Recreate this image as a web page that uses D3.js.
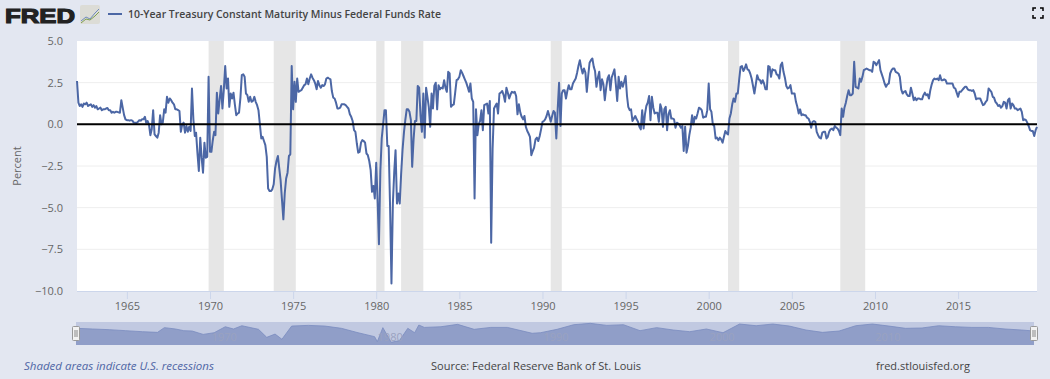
<!DOCTYPE html>
<html>
<head>
<meta charset="utf-8">
<title>10-Year Treasury Constant Maturity Minus Federal Funds Rate</title>
<script src="https://cdn.jsdelivr.net/npm/d3@7"></script>
<style>
  html, body { margin:0; padding:0; background:#e3e7f1; overflow:hidden; }
  svg { display:block; }
  text { font-family:"Open Sans", sans-serif; }
  .axis path { display:none; }
</style>
</head>
<body>
<svg></svg>
<script>

//monthly values, one row per year
var values = [
  2.6,1.3,1.1,1.2,1.05,1.25,1.2,1.3,1.1,1.15,1.2,1.05,
  1.15,1.0,1.1,0.9,0.95,1.0,0.85,0.9,0.9,0.95,0.98,0.85,
  0.85,0.7,0.75,0.7,0.75,0.75,0.72,0.7,1.45,1.0,0.55,0.3,
  0.25,0.25,0.22,0.25,0.22,0.1,0.1,0.08,0.15,0.25,0.22,0.3,
  0.3,0.45,0.1,0.2,0.0,-0.65,-0.3,0.85,-0.6,-0.7,-0.8,-0.5,
  0.55,0.0,0.1,0.9,0.7,1.65,1.3,1.55,1.45,1.3,1.2,0.9,
  0.9,0.85,0.8,-0.45,0.0,0.1,-0.5,-0.1,-0.45,-0.15,-0.4,2.15,
  0.3,-0.7,-0.5,-1.75,-2.8,-0.8,-2.0,-2.9,-1.1,-2.0,-1.95,2.85,
  -1.65,-1.65,-1.0,-0.45,-0.65,1.9,0.65,1.5,2.3,0.95,2.1,3.5,
  2.15,2.75,1.05,1.85,1.55,1.9,1.2,0.55,0.65,0.7,1.6,2.95,
  3.0,2.85,1.85,1.75,1.35,1.65,1.35,1.4,1.65,1.35,1.15,0.85,
  0.0,-0.85,-0.75,-1.0,-1.25,-1.95,-3.85,-4.0,-4.0,-3.9,-3.6,-2.65,
  -2.2,-1.9,-2.6,-3.35,-4.5,-5.7,-4.15,-3.25,-2.9,-1.9,-1.8,3.5,
  0.9,2.55,1.35,2.75,1.95,2.0,2.05,2.2,2.35,2.4,2.75,2.4,
  2.75,3.0,2.8,2.65,2.45,2.1,2.6,2.35,2.2,2.35,2.3,2.4,
  2.75,2.8,2.75,2.7,2.0,1.6,1.55,1.3,0.95,0.95,1.0,1.2,
  1.2,1.2,1.15,1.05,0.95,0.6,0.45,0.2,-0.35,-0.45,-1.15,-1.7,
  -1.65,-1.1,-0.95,-1.0,-1.1,-1.75,-1.85,-2.2,-2.75,-4.05,-3.7,-4.45,
  -2.3,-4.6,-7.2,-2.8,-0.85,0.0,0.85,0.85,-1.3,-1.3,-5.0,-9.55,
  -4.75,-2.8,-1.55,-4.75,-4.15,-4.75,-3.0,-1.55,-0.5,0.25,0.9,0.9,
  0.75,0.25,-2.55,-0.9,0.2,0.2,2.3,2.2,0.5,-0.45,1.85,-0.8,
  2.2,1.6,1.05,-0.15,1.85,0.95,2.3,2.5,0.9,2.35,2.1,2.2,
  2.15,2.65,2.2,1.95,3.15,3.05,1.05,1.15,1.2,1.9,2.65,2.7,
  2.85,3.25,3.1,2.9,2.7,2.5,2.25,1.95,2.45,1.55,1.35,-4.45,
  0.9,-0.65,0.0,0.2,0.85,-0.35,1.15,1.2,1.25,0.65,1.4,-7.1,
  -1.5,0.95,1.1,1.25,0.65,1.85,1.9,2.0,1.75,1.35,2.2,1.9,
  1.55,1.8,1.95,1.9,1.95,1.7,0.6,1.2,0.7,0.45,0.3,0.5,
  -0.15,-0.4,-0.55,-0.75,-1.85,-1.6,-1.4,-0.9,-0.8,-1.0,-0.7,-0.3,
  0.15,0.2,0.3,0.5,0.8,0.5,0.15,0.5,0.8,0.7,-0.85,0.9,
  2.5,-0.1,1.85,2.05,2.05,1.55,2.0,2.35,2.1,2.1,2.45,2.6,
  2.75,3.1,3.5,3.85,3.4,3.05,3.35,3.1,1.95,2.9,3.7,3.85,
  3.95,3.45,3.2,2.25,2.8,3.15,2.05,2.7,2.4,1.45,2.2,2.75,
  2.95,2.05,2.8,3.05,3.3,2.4,1.4,2.85,2.15,2.55,2.25,2.55,
  2.9,1.7,1.05,0.85,0.9,0.2,0.35,0.5,0.3,0.15,-0.15,-0.3,
  0.85,-0.25,0.6,1.1,1.3,1.7,0.25,1.65,1.0,0.65,0.7,0.7,
  0.15,1.2,0.95,-0.15,0.9,1.05,-0.35,0.6,0.85,0.35,0.35,0.3,
  -0.2,0.1,0.05,-0.05,-0.2,-0.1,-1.6,-0.15,-1.7,-1.3,-0.65,-0.2,
  0.55,0.0,0.45,0.35,0.65,1.0,0.95,0.85,0.4,0.45,0.45,0.85,
  2.45,0.9,0.75,0.0,-0.1,-0.85,-0.8,-0.95,-0.8,-0.9,-1.1,-0.75,
  -0.4,-0.55,-0.6,0.35,0.65,1.2,1.55,1.35,1.85,1.85,2.7,3.45,
  3.5,3.2,3.35,3.6,3.3,3.25,3.05,2.75,2.3,1.85,2.4,2.95,
  2.7,2.65,2.45,2.65,2.45,2.1,2.1,3.5,3.45,2.85,3.3,3.25,
  3.25,3.0,2.95,2.75,3.55,3.7,3.15,2.8,2.3,2.15,2.2,2.35,
  1.85,1.85,1.85,1.35,1.05,0.65,0.9,0.55,0.6,0.55,0.55,0.4,
  0.35,0.15,-0.2,0.15,0.2,0.15,-0.45,-0.65,-0.8,-0.85,-0.5,-0.45,
  -0.45,-0.85,-0.75,-0.45,-0.3,-0.25,-0.35,-0.1,-0.2,-0.25,-0.4,-0.65,
  0.95,0.45,1.0,1.3,1.7,2.05,1.75,1.75,1.85,3.75,2.25,2.2,
  2.15,2.75,2.55,2.85,3.25,3.3,3.35,3.3,3.25,3.25,3.15,3.75,
  3.7,3.55,3.7,3.85,3.25,3.0,2.75,2.45,2.25,2.4,2.45,3.05,
  3.25,3.35,3.35,3.15,3.1,3.05,2.85,2.1,1.85,1.95,2.0,1.8,
  1.7,1.7,2.2,1.85,1.45,1.6,1.45,1.55,1.55,1.5,1.5,1.75,
  1.9,1.75,1.8,1.55,2.05,2.4,2.65,2.75,2.7,2.75,2.65,2.95,
  2.65,2.65,2.7,2.65,2.45,2.45,2.45,2.45,2.45,2.2,2.15,1.9,
  1.65,1.95,1.95,2.05,2.15,2.25,2.25,2.1,2.05,2.05,2.0,2.05,
  1.85,1.5,1.55,1.55,1.55,1.35,1.15,1.2,1.35,1.45,2.15,2.05,
  1.95,1.65,1.6,1.35,1.25,1.1,1.15,1.0,1.1,1.35,1.3,0.95,
  1.45,1.55,0.95,1.25,1.15,0.95,0.95,0.85,0.9,0.95,0.75,0.25,
  0.3,0.25,0.1,-0.1,-0.35,-0.4,-0.4,-0.7,-0.35,-0.15
];

var navYears = [
  1962,1963,1964,1965,1966,1966.9,1967.3,1968,1968.5,1969,1969.7,1970.3,1971,1971.5,1972,1973,
  1973.5,1974,1974.4,1975,1976,1977,1978,1979,1980,1980.2,1980.5,1981,1981.5,1982,1982.4,1982.7,
  1983,1984,1985,1986,1987,1988,1989.5,1990,1991,1992,1993,1994,1995,1996,1997,1998,1999,2000,
  2001,2002,2003,2004,2005,2006,2007,2008,2009,2010,2011,2012,2013,2014,2015,2016,2017,2018,2019,2019.75
];
var navValues = [
  1.3,1.0,0.7,0.25,-0.2,-0.5,1.6,1.0,0.25,0.1,-1.4,-0.65,2.0,1.0,2.45,0.85,
  -2.7,-1.25,-3.55,2.3,2.6,2.3,1.3,-0.65,-2.4,-4.6,1.6,-4.9,-4.15,1.3,-0.65,2.75,
  1.7,2.0,3.05,0.85,1.7,1.7,-0.9,-0.65,0.85,2.9,3.5,2.6,2.9,0.25,1.6,0.55,-0.2,1.0,
  -0.65,3.2,2.45,3.2,2.3,0.55,-0.5,0.1,2.45,3.2,2.3,1.3,1.45,2.45,2.0,1.7,1.7,1.0,0.55,0.1
];

var recessionStarts = ["1969-12-01","1973-11-01","1980-01-01","1981-07-01","1990-07-01","2001-03-01","2007-12-01"];
var recessionEnds = ["1970-11-01","1975-03-01","1980-07-01","1982-11-01","1991-03-01","2001-11-01","2009-06-01"];

var xTickYears = [1965,1970,1975,1980,1985,1990,1995,2000,2005,2010,2015];
var navTickYears = [1970,1980,1990,2000,2010];
var yTicks = [5,2.5,0,-2.5,-5,-7.5,-10];

var title = "10-Year Treasury Constant Maturity Minus Federal Funds Rate";

var dates = values.map(function(v,i) {return new Date(1962,i,1);});
var parseDay = d3.timeParse("%Y-%m-%d");

var navDates = navYears.map(function(y) {
  return new Date(Math.floor(y),Math.round((y-Math.floor(y))*12),1);
});

var recessions = recessionStarts.map(function(s,i) {
  return {start:parseDay(s), end:parseDay(recessionEnds[i])};
});

var screen = { height:379, width:1050 };
var plotBox = { top:41, left:77, bottom:291, right:1037 };
var navBox = { top:322, left:76, bottom:345, right:1034 };

var svg = d3.select("svg").attr("width",screen.width).attr("height",screen.height);

var xScale = d3.scaleTime()
            .domain([dates[0],dates[dates.length-1]])
            .range([plotBox.left,plotBox.right]);

var yScale = d3.scaleLinear()
            .domain([-10,5])
            .range([plotBox.bottom,plotBox.top]);

//plot background
svg.append("rect")
   .attr("x",plotBox.left)
   .attr("y",plotBox.top)
   .attr("width",plotBox.right-plotBox.left)
   .attr("height",plotBox.bottom-plotBox.top)
   .attr("fill","white");

//gridlines
svg.append("g").selectAll("line")
   .data(yTicks.filter(function(d) {return d>-10 && d<5;}))
   .enter()
   .append("line")
   .attr("x1",plotBox.left)
   .attr("x2",plotBox.right)
   .attr("y1",function(d) {return yScale(d);})
   .attr("y2",function(d) {return yScale(d);})
   .attr("stroke","#eeeeee")
   .attr("stroke-width",1);

//recession bands
svg.append("g").selectAll("rect")
   .data(recessions)
   .enter()
   .append("rect")
   .attr("x",function(d) {return xScale(d.start);})
   .attr("width",function(d) {return xScale(d.end)-xScale(d.start);})
   .attr("y",plotBox.top)
   .attr("height",plotBox.bottom-plotBox.top)
   .attr("fill","#e6e6e6");

//the series
var line = d3.line()
            .x(function(d,i) {return xScale(dates[i]);})
            .y(function(d) {return yScale(d);});

svg.append("path")
   .datum(values)
   .attr("d",line)
   .attr("fill","none")
   .attr("stroke","#4c67a5")
   .attr("stroke-width",2)
   .attr("stroke-linejoin","round");

//zero line sits on top
svg.append("line")
   .attr("x1",plotBox.left)
   .attr("x2",plotBox.right)
   .attr("y1",yScale(0))
   .attr("y2",yScale(0))
   .attr("stroke","black")
   .attr("stroke-width",2);

//axes
var xAxis = d3.axisBottom(xScale)
            .tickValues(xTickYears.map(function(y) {return new Date(y,0,1);}))
            .tickFormat(d3.timeFormat("%Y"))
            .tickSize(8)
            .tickPadding(3);

var xAxisG = svg.append("g")
   .classed("axis",true)
   .attr("transform","translate(0,"+plotBox.bottom+")")
   .call(xAxis);
xAxisG.selectAll("line").attr("stroke","#ccd6eb");
xAxisG.selectAll("text").attr("fill","#666666").style("font-size","11px");

svg.append("line")
   .attr("x1",plotBox.left)
   .attr("x2",plotBox.right)
   .attr("y1",plotBox.bottom+0.5)
   .attr("y2",plotBox.bottom+0.5)
   .attr("stroke","#ccd6eb");

var yAxis = d3.axisLeft(yScale)
            .tickValues(yTicks)
            .tickFormat(d3.format(".1f"))
            .tickSize(0)
            .tickPadding(14);

var yAxisG = svg.append("g")
   .classed("axis",true)
   .attr("transform","translate("+plotBox.left+",0)")
   .call(yAxis);
yAxisG.selectAll("text").attr("fill","#666666").style("font-size","11px");

svg.append("text")
   .attr("transform","translate(21,166) rotate(-90)")
   .attr("text-anchor","middle")
   .attr("fill","#666666")
   .style("font-size","11px")
   .text("Percent");

//navigator
var navX = d3.scaleTime()
            .domain(xScale.domain())
            .range([navBox.left,navBox.right]);

var navY = d3.scaleLinear()
            .domain([-6.1,4.1])
            .range([navBox.bottom,navBox.top]);

svg.append("rect")
   .attr("x",navBox.left)
   .attr("y",navBox.top)
   .attr("width",navBox.right-navBox.left)
   .attr("height",navBox.bottom-navBox.top)
   .attr("fill","#c1c9e1");

var navArea = d3.area()
            .x(function(d,i) {return navX(navDates[i]);})
            .y0(navBox.bottom)
            .y1(function(d) {return navY(d);});

svg.append("path")
   .datum(navValues)
   .attr("d",navArea)
   .attr("fill","#909ec8");

var navLine = d3.line()
            .x(function(d,i) {return navX(navDates[i]);})
            .y(function(d) {return navY(d);});

svg.append("path")
   .datum(navValues)
   .attr("d",navLine)
   .attr("fill","none")
   .attr("stroke","#7a8bbf")
   .attr("stroke-width",0.8);

svg.append("g").selectAll("text")
   .data(navTickYears)
   .enter()
   .append("text")
   .attr("x",function(d) {return navX(new Date(d,0,1))+3;})
   .attr("y",341)
   .attr("fill","#9aa2c0")
   .style("font-size","11px")
   .text(function(d) {return d;});

var handles = svg.append("g").selectAll("g")
   .data([navBox.left,navBox.right])
   .enter()
   .append("g")
   .attr("transform",function(d) {return "translate("+d+",0)";});

handles.append("rect")
   .attr("x",-3.5)
   .attr("y",326.5)
   .attr("width",7)
   .attr("height",14)
   .attr("rx",1)
   .attr("fill","#f2f2f2")
   .attr("stroke","#999999");

handles.selectAll("line")
   .data([-1,1])
   .enter()
   .append("line")
   .attr("x1",function(d) {return d;})
   .attr("x2",function(d) {return d;})
   .attr("y1",330)
   .attr("y2",337)
   .attr("stroke","#888888");

//footer
svg.append("text")
   .attr("x",24)
   .attr("y",370)
   .attr("fill","#4f66a5")
   .style("font-size","11.5px")
   .style("font-style","italic")
   .text("Shaded areas indicate U.S. recessions");

svg.append("text")
   .attr("x",431)
   .attr("y",370)
   .attr("fill","#444444")
   .style("font-size","11px")
   .text("Source: Federal Reserve Bank of St. Louis");

svg.append("text")
   .attr("x",876)
   .attr("y",370)
   .attr("fill","#444444")
   .style("font-size","11px")
   .text("fred.stlouisfed.org");

//header: logo, legend, fullscreen icon
svg.append("text")
   .attr("x",5)
   .attr("y",23)
   .attr("fill","#222222")
   .attr("stroke","#222222")
   .attr("stroke-width",1.2)
   .attr("textLength",70)
   .attr("lengthAdjust","spacingAndGlyphs")
   .style("font-family","'Liberation Sans', sans-serif")
   .style("font-weight","bold")
   .style("font-size","21px")
   .text("FRED");

svg.append("rect")
   .attr("x",80)
   .attr("y",5)
   .attr("width",20)
   .attr("height",19)
   .attr("rx",2)
   .attr("fill","#dcdcd6");

svg.append("path")
   .attr("d","M81,21 L86,17 L90,19 L95,13 L99,9")
   .attr("fill","none")
   .attr("stroke","#6f8abc")
   .attr("stroke-width",1);

svg.append("path")
   .attr("d","M81,23 L86,19 L90,20 L95,16 L99,12")
   .attr("fill","none")
   .attr("stroke","#7f9f4f")
   .attr("stroke-width",1);

svg.append("line")
   .attr("x1",108)
   .attr("x2",122)
   .attr("y1",14)
   .attr("y2",14)
   .attr("stroke","#4c67a5")
   .attr("stroke-width",2);

svg.append("text")
   .attr("x",128)
   .attr("y",18)
   .attr("fill","#444444")
   .attr("textLength",313)
   .attr("lengthAdjust","spacingAndGlyphs")
   .style("font-size","11.5px")
   .style("font-weight","600")
   .text(title);

svg.append("path")
   .attr("d","M1033,11 v-3 h3 M1040,8 h3 v3 M1043,15 v3 h-3 M1036,18 h-3 v-3")
   .attr("fill","none")
   .attr("stroke","black")
   .attr("stroke-width",1.5);

</script>
</body>
</html>
